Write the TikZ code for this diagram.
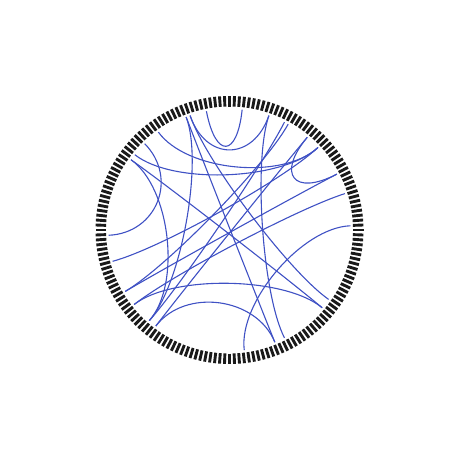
\documentclass[tikz,border=0pt]{standalone}
\usepackage{tikz}
\definecolor{azulcuerda}{RGB}{63,81,196}
\definecolor{negromarca}{RGB}{26,26,26}

\begin{document}
\begin{tikzpicture}[x=1pt, y=1pt,
			 marca/.style={draw=negromarca, line width=2.9pt},
			 cuerda/.style={draw=azulcuerda, line width=1.1pt}
  		]
	\useasboundingbox (-229.5,-231) rectangle (231.5,230);

	%Creamos las marcas del borde
		\foreach \i in {0,...,167}{
			\draw[marca] ({\i*2.142857}:123.5) -- ({\i*2.142857}:134);
		}

	%Creamos los extremos de las cuerdas (p) y sus puntos de control (c)
		\foreach \n/\a in {1/111, 2/109, 3/101, 4/84, 5/71, 6/63, 7/61,
			8/50, 9/43, 10/27.5, 11/17.5, 12/2, 13/-35, 14/-40, 15/-63,
			16/-68, 17/-83, 18/232.5, 19/228.5, 21/218, 22/210.5, 23/195,
			24/182.5, 25/144.5, 26/141.5, 27/134.5, 28/126}{
			\coordinate (p\n) at (\a:121);
			\coordinate (c\n) at (\a:72.6);
		}

	%Cuerdas de arriba
		\draw[cuerda] (p3) .. controls (c3) and (c4) .. (p4);
		\draw[cuerda] (p2) .. controls (c2) and (c5) .. (p5);
		\draw[cuerda] (p1) .. controls (c1) and (c19) .. (p19);
		\draw[cuerda] (p1) .. controls (c1) and (c16) .. (p16);
		\draw[cuerda] (p2) .. controls (c2) and (c13) .. (p13);
		\draw[cuerda] (p5) .. controls (c5) and (c15) .. (p15);
		\draw[cuerda] (p6) .. controls (c6) and (c19) .. (p19);
		\draw[cuerda] (p7) .. controls (c7) and (c22) .. (p22);
		\draw[cuerda] (p8) .. controls (c8) and (c10) .. (p10);
	%Cuerdas de la izquierda
		\draw[cuerda] (p27) .. controls (c27) and (c24) .. (p24);
		\draw[cuerda] (p25) .. controls (c25) and (c19) .. (p19);
		\draw[cuerda] (p25) .. controls (c25) and (c14) .. (p14);
		\draw[cuerda] (p26) .. controls (c26) and (c9) .. (p9);
		\draw[cuerda] (p28) .. controls (c28) and (c9) .. (p9);
		\draw[cuerda] (p23) .. controls (c23) and (c9) .. (p9);
		\draw[cuerda] (p22) .. controls (c22) and (c10) .. (p10);
	%Cuerdas de abajo
		\draw[cuerda] (p21) .. controls (c21) and (c14) .. (p14);
		\draw[cuerda] (p21) .. controls (c21) and (c11) .. (p11);
		\draw[cuerda] (p18) .. controls (c18) and (c16) .. (p16);
		\draw[cuerda] (p18) .. controls (c18) and (c8) .. (p8);
		\draw[cuerda] (p12) .. controls (c12) and (c17) .. (p17);

\end{tikzpicture}
\end{document}
